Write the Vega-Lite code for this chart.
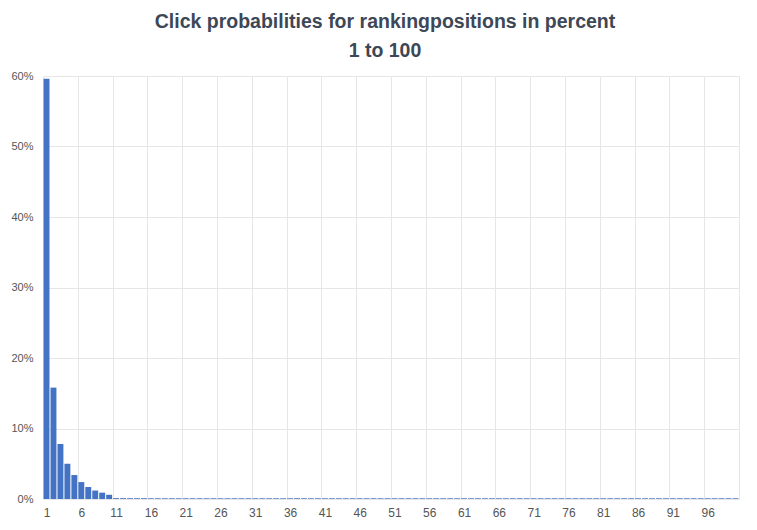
{
  "$schema": "https://vega.github.io/schema/vega-lite/v6.json",
  "width": 696,
  "height": 423,
  "autosize": "none",
  "padding": {"left": 43, "top": 76, "right": 18, "bottom": 31},
  "background": "white",
  "config": {
    "font": "Liberation Sans",
    "view": {"stroke": "#e6e6e6"}
  },
  "title": {
    "text": "Click probabilities for rankingpositions in percent",
    "subtitle": "1 to 100",
    "anchor": "middle",
    "dx": -6,
    "font": "Liberation Sans",
    "fontSize": 19.5,
    "fontWeight": "bold",
    "color": "#3e4756",
    "subtitleFont": "Liberation Sans",
    "subtitleFontSize": 19.5,
    "subtitleFontWeight": "bold",
    "subtitleColor": "#3e4756",
    "subtitlePadding": 9,
    "offset": 9
  },
  "data": {
    "values": [
      {"pos": 1, "p": 59.6}, {"pos": 2, "p": 15.8}, {"pos": 3, "p": 7.8}, {"pos": 4, "p": 5.0}, {"pos": 5, "p": 3.4},
      {"pos": 6, "p": 2.4}, {"pos": 7, "p": 1.7}, {"pos": 8, "p": 1.2}, {"pos": 9, "p": 0.9}, {"pos": 10, "p": 0.6},
      {"pos": 11, "p": 0.12}, {"pos": 12, "p": 0.12}, {"pos": 13, "p": 0.11}, {"pos": 14, "p": 0.11}, {"pos": 15, "p": 0.11},
      {"pos": 16, "p": 0.1}, {"pos": 17, "p": 0.1}, {"pos": 18, "p": 0.1}, {"pos": 19, "p": 0.1}, {"pos": 20, "p": 0.1},
      {"pos": 21, "p": 0.1}, {"pos": 22, "p": 0.1}, {"pos": 23, "p": 0.1}, {"pos": 24, "p": 0.1}, {"pos": 25, "p": 0.1},
      {"pos": 26, "p": 0.1}, {"pos": 27, "p": 0.1}, {"pos": 28, "p": 0.1}, {"pos": 29, "p": 0.1}, {"pos": 30, "p": 0.1},
      {"pos": 31, "p": 0.1}, {"pos": 32, "p": 0.1}, {"pos": 33, "p": 0.1}, {"pos": 34, "p": 0.1}, {"pos": 35, "p": 0.1},
      {"pos": 36, "p": 0.1}, {"pos": 37, "p": 0.1}, {"pos": 38, "p": 0.1}, {"pos": 39, "p": 0.1}, {"pos": 40, "p": 0.1},
      {"pos": 41, "p": 0.1}, {"pos": 42, "p": 0.1}, {"pos": 43, "p": 0.1}, {"pos": 44, "p": 0.1}, {"pos": 45, "p": 0.1},
      {"pos": 46, "p": 0.1}, {"pos": 47, "p": 0.1}, {"pos": 48, "p": 0.1}, {"pos": 49, "p": 0.1}, {"pos": 50, "p": 0.1},
      {"pos": 51, "p": 0.1}, {"pos": 52, "p": 0.1}, {"pos": 53, "p": 0.1}, {"pos": 54, "p": 0.1}, {"pos": 55, "p": 0.1},
      {"pos": 56, "p": 0.1}, {"pos": 57, "p": 0.1}, {"pos": 58, "p": 0.1}, {"pos": 59, "p": 0.1}, {"pos": 60, "p": 0.1},
      {"pos": 61, "p": 0.1}, {"pos": 62, "p": 0.1}, {"pos": 63, "p": 0.1}, {"pos": 64, "p": 0.1}, {"pos": 65, "p": 0.1},
      {"pos": 66, "p": 0.1}, {"pos": 67, "p": 0.1}, {"pos": 68, "p": 0.1}, {"pos": 69, "p": 0.1}, {"pos": 70, "p": 0.1},
      {"pos": 71, "p": 0.1}, {"pos": 72, "p": 0.1}, {"pos": 73, "p": 0.1}, {"pos": 74, "p": 0.1}, {"pos": 75, "p": 0.1},
      {"pos": 76, "p": 0.1}, {"pos": 77, "p": 0.1}, {"pos": 78, "p": 0.1}, {"pos": 79, "p": 0.1}, {"pos": 80, "p": 0.1},
      {"pos": 81, "p": 0.1}, {"pos": 82, "p": 0.1}, {"pos": 83, "p": 0.1}, {"pos": 84, "p": 0.1}, {"pos": 85, "p": 0.1},
      {"pos": 86, "p": 0.1}, {"pos": 87, "p": 0.1}, {"pos": 88, "p": 0.1}, {"pos": 89, "p": 0.1}, {"pos": 90, "p": 0.1},
      {"pos": 91, "p": 0.1}, {"pos": 92, "p": 0.1}, {"pos": 93, "p": 0.1}, {"pos": 94, "p": 0.1}, {"pos": 95, "p": 0.1},
      {"pos": 96, "p": 0.1}, {"pos": 97, "p": 0.1}, {"pos": 98, "p": 0.1}, {"pos": 99, "p": 0.1}, {"pos": 100, "p": 0.1}
    ]
  },
  "mark": {"type": "bar", "color": "#4472c4"},
  "encoding": {
    "x": {
      "field": "pos",
      "type": "ordinal",
      "sort": "ascending",
      "scale": {"paddingInner": 0.15, "paddingOuter": 0.08},
      "axis": {
        "title": null,
        "values": [1, 6, 11, 16, 21, 26, 31, 36, 41, 46, 51, 56, 61, 66, 71, 76, 81, 86, 91, 96],
        "labelAngle": 0,
        "tickOffset": -3.48,
        "labelOffset": 3.48,
        "domain": false,
        "ticks": false,
        "grid": true,
        "gridColor": "#e6e6e6",
        "labelColor": "#555555",
        "labelFontSize": 12,
        "labelPadding": 8
      }
    },
    "y": {
      "field": "p",
      "type": "quantitative",
      "scale": {"domain": [0, 60]},
      "axis": {
        "title": null,
        "values": [0, 10, 20, 30, 40, 50, 60],
        "labelExpr": "datum.value + '%'",
        "domain": false,
        "ticks": false,
        "grid": true,
        "gridColor": "#e6e6e6",
        "labelColor": "#555555",
        "labelFontSize": 11,
        "labelPadding": 10
      }
    }
  }
}
